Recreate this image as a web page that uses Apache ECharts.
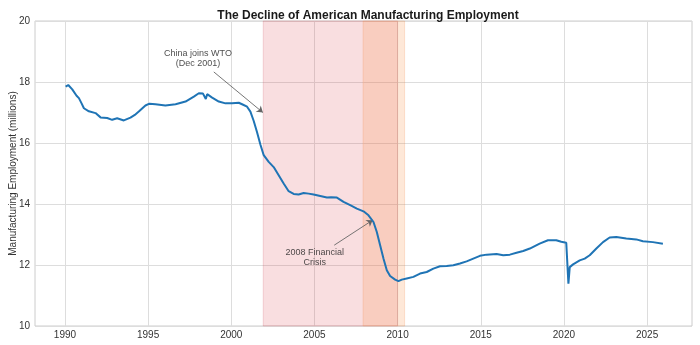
<!DOCTYPE html>
<html>
<head>
<meta charset="utf-8">
<script src="https://cdn.jsdelivr.net/npm/echarts@6/dist/echarts.min.js"></script>
<style>
html,body{margin:0;padding:0;background:#fff;}
#chart{width:700px;height:345px;}
</style>
</head>
<body>
<div id="chart"></div>
<script>
// ---- data ----
const years = [
  1990.04,1990.2,1990.44,1990.7,1990.84,1991.0,1991.14,1991.44,1991.84,1992.14,
  1992.54,1992.84,1993.14,1993.54,1993.94,1994.2,1994.44,1994.84,1995.08,1995.44,
  1996.04,1996.65,1997.25,1997.75,1998.05,1998.3,1998.42,1998.47,1998.55,1998.85,
  1999.25,1999.65,2000.05,2000.45,2000.65,2000.95,2001.15,2001.35,2001.55,2001.75,
  2001.95,2002.25,2002.55,2002.85,2003.15,2003.45,2003.75,2004.05,2004.35,2004.65,
  2004.95,2005.35,2005.75,2006.0,2006.35,2006.75,2007.15,2007.55,2007.95,2008.25,
  2008.55,2008.75,2008.95,2009.15,2009.35,2009.55,2009.85,2010.05,2010.25,2010.55,
  2010.95,2011.35,2011.75,2012.15,2012.55,2012.95,2013.35,2013.75,2014.15,2014.55,
  2014.95,2015.35,2015.95,2016.35,2016.75,2017.15,2017.55,2017.95,2018.54,2019.04,
  2019.54,2019.84,2020.14,2020.2,2020.27,2020.35,2020.55,2020.95,2021.25,2021.55,
  2021.95,2022.35,2022.75,2023.15,2023.75,2024.35,2024.75,2025.35,2025.95
];
const employment = [
  17.85,17.9,17.76,17.55,17.47,17.3,17.14,17.04,16.98,16.84,
  16.82,16.76,16.81,16.74,16.83,16.92,17.03,17.23,17.29,17.27,
  17.23,17.27,17.36,17.52,17.63,17.62,17.58,17.44,17.6,17.49,
  17.36,17.3,17.3,17.32,17.27,17.19,17.03,16.72,16.35,15.95,
  15.6,15.38,15.21,14.94,14.67,14.42,14.33,14.31,14.36,14.34,
  14.31,14.26,14.21,14.22,14.21,14.07,13.96,13.85,13.76,13.63,
  13.41,13.08,12.65,12.21,11.83,11.64,11.52,11.47,11.52,11.56,
  11.61,11.72,11.77,11.88,11.96,11.97,11.99,12.05,12.12,12.21,
  12.3,12.34,12.36,12.32,12.34,12.4,12.46,12.54,12.7,12.81,
  12.81,12.76,12.73,12.7,11.39,11.93,12.02,12.15,12.21,12.32,
  12.54,12.75,12.9,12.92,12.87,12.84,12.78,12.75,12.7
];
const xTicks = [1990,1995,2000,2005,2010,2015,2020,2025];
const yTicks = [10,12,14,16,18,20];
// shaded periods [start, end]
const chinaPeriod = [2001.92, 2010.0];
const crisisPeriod = [2007.92, 2010.42];
// annotations
const annotTexts = ['China joins WTO\n(Dec 2001)', '2008 Financial\nCrisis'];
const annotTextAt = [[1998.0, 18.77], [2005.02, 12.25]];
const annotArrowFrom = [[1998.95, 18.33], [2006.19, 12.65]];
const annotArrowTo = [[2001.9, 17.0], [2008.5, 13.47]];

// ---- chart ----
const chart = echarts.init(document.getElementById('chart'), null, {renderer: 'canvas'});
const FONT = '"Liberation Sans", Arial, sans-serif';
const lineData = years.map((y, i) => [y, employment[i]]);

const option = {
  backgroundColor: '#ffffff',
  animation: false,
  title: {
    text: 'The Decline of American Manufacturing Employment',
    left: 363, top: 5, textAlign: 'center',
    textStyle: {fontFamily: FONT, fontSize: 12, fontWeight: 'bold', color: '#1a1a1a'}
  },
  grid: {
    left: 35, right: 8, top: 21, bottom: 19,
    containLabel: false, outerBoundsMode: 'none',
    show: true, borderColor: '#cccccc', borderWidth: 1, backgroundColor: 'transparent'
  },
  xAxis: {
    type: 'value', min: 1988.2, max: 2027.7,
    axisLine: {show: false},
    axisTick: {show: false, customValues: xTicks},
    axisLabel: {customValues: xTicks, margin: 4, color: '#333333', fontFamily: FONT, fontSize: 10,
      formatter: v => String(Math.round(v))},
    splitLine: {show: true, lineStyle: {color: '#dddddd', width: 1}}
  },
  yAxis: {
    type: 'value', min: yTicks[0], max: yTicks[yTicks.length - 1], interval: 2,
    name: 'Manufacturing Employment (millions)',
    nameLocation: 'middle', nameGap: 17, nameMoveOverlap: false,
    nameTextStyle: {fontFamily: FONT, fontSize: 10, color: '#333333'},
    axisLine: {show: false}, axisTick: {show: false},
    axisLabel: {margin: 5, color: '#333333', fontFamily: FONT, fontSize: 10},
    splitLine: {show: true, lineStyle: {color: '#dddddd', width: 1}}
  },
  series: [
    {
      name: 'Employment', type: 'line', data: lineData,
      showSymbol: false, symbol: 'none', z: 5,
      lineStyle: {color: '#1f74b5', width: 2},
      markArea: {
        silent: true,
        label: {show: false},
        data: [
          [{xAxis: chinaPeriod[0], itemStyle: {color: 'rgba(220,60,70,0.17)', borderColor: 'rgba(200,60,70,0.18)', borderWidth: 1}},
           {xAxis: chinaPeriod[1]}],
          [{xAxis: crisisPeriod[0], itemStyle: {color: 'rgba(250,140,60,0.2)', borderColor: 'rgba(240,130,60,0.2)', borderWidth: 1}},
           {xAxis: crisisPeriod[1]}]
        ]
      },
      markLine: {
        silent: true, animation: false,
        symbolSize: 6,
        label: {show: false},
        lineStyle: {color: '#666666', width: 0.9, type: 'solid'},
        data: annotArrowFrom.map((f, i) => [
          {coord: f, symbol: 'none'},
          {coord: annotArrowTo[i], symbol: 'arrow'}
        ])
      }
    },
    {
      name: 'annotations', type: 'scatter', symbolSize: 0, z: 6, silent: true,
      data: annotTextAt.map((p, i) => ({value: p, label: {formatter: annotTexts[i]}})),
      label: {
        show: true, position: 'inside', align: 'center', verticalAlign: 'middle',
        fontFamily: FONT, fontSize: 9, lineHeight: 10, color: '#222222'
      }
    }
  ]
};
chart.setOption(option);
</script>
</body>
</html>
